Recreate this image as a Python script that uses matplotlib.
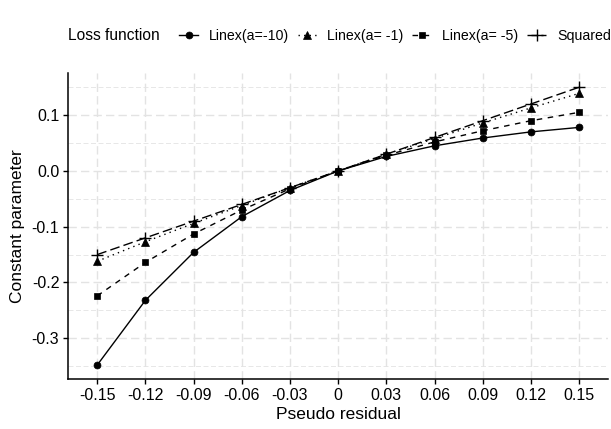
import matplotlib
matplotlib.use("Agg")
import matplotlib.pyplot as plt
import numpy as np

plt.rcParams['font.family'] = ['Liberation Sans', 'DejaVu Sans']

x_labels = ["-0.15", "-0.12", "-0.09", "-0.06", "-0.03", "0", "0.03", "0.06", "0.09", "0.12", "0.15"]
linex_m10 = [-0.348, -0.232, -0.146, -0.082, -0.035, 0.0, 0.026, 0.045, 0.059, 0.070, 0.078]
linex_m1 = [-0.162, -0.127, -0.094, -0.062, -0.030, 0.0, 0.030, 0.058, 0.086, 0.113, 0.139]
linex_m5 = [-0.224, -0.164, -0.113, -0.070, -0.032, 0.0, 0.028, 0.052, 0.072, 0.090, 0.105]
squared = [-0.15, -0.12, -0.09, -0.06, -0.03, 0.0, 0.03, 0.06, 0.09, 0.12, 0.15]
series_names = ["Linex(a=-10)", "Linex(a= -1)", "Linex(a= -5)", "Squared"]
y_ticks = [-0.3, -0.2, -0.1, 0.0, 0.1]
y_minor = [-0.35, -0.25, -0.15, -0.05, 0.05, 0.15]

W, H = 611, 429
fig = plt.figure(figsize=(W / 100, H / 100), dpi=100)
ax = fig.add_axes([68.3 / W, 1 - 379 / H, (608 - 68.3) / W, (379 - 73.3) / H])

xs = np.arange(len(x_labels))
lw = 1.0
styles = [
    dict(data=linex_m10, marker='o', ls='-', ms=5),
    dict(data=linex_m1, marker='^', ls=(0, (1, 3)), ms=5.5),
    dict(data=linex_m5, marker='s', ls=(0, (4, 4)), ms=5),
    dict(data=squared, marker='+', ls=(0, (7, 3)), ms=9),
]
handles = []
for name, st in zip(series_names, styles):
    h, = ax.plot(xs, st['data'], color='black', lw=lw, linestyle=st['ls'],
                 marker=st['marker'], markersize=st['ms'],
                 markeredgewidth=1.0 if st['marker'] == '+' else 0.5,
                 label=name, zorder=3)
    handles.append(h)

ax.set_xlim(-0.6, len(x_labels) - 1 + 0.6)
ax.set_ylim(-0.373, 0.175)
ax.set_xticks(xs)
ax.set_xticklabels(x_labels)
ax.set_yticks(y_ticks)
ax.set_yticklabels([f"{v:.1f}" for v in y_ticks])
ax.set_yticks(y_minor, minor=True)

grid_col = '#e3e3e3'
ax.grid(True, which='major', color=grid_col, linestyle=(0, (6, 3)), linewidth=1.0, zorder=0)
ax.grid(True, which='minor', axis='y', color=grid_col, linestyle=(0, (6, 3)), linewidth=0.6, zorder=0)
ax.set_axisbelow(True)

for s in ['top', 'right']:
    ax.spines[s].set_visible(False)
for s in ['left', 'bottom']:
    ax.spines[s].set_linewidth(1.1)
    ax.spines[s].set_color('black')

ax.tick_params(axis='both', which='major', labelsize=11.5, colors='black', length=3.5, width=1.0, pad=3)
ax.tick_params(axis='y', which='minor', length=0)
ax.set_xlabel("Pseudo residual", fontsize=12.5, labelpad=3)
ax.set_ylabel("Constant parameter", fontsize=12.5, labelpad=5)

fig.text(68 / W, 1 - 36 / H, "Loss function", fontsize=11.2, ha='left', va='center')
fig.legend(handles=handles, labels=series_names, loc='center left',
           bbox_to_anchor=(179 / W, 1 - 36 / H), ncol=4, frameon=False,
           fontsize=10.2, handlelength=1.35, handletextpad=0.75, columnspacing=0.62,
           borderaxespad=0, borderpad=0)

fig.savefig("out.png", dpi=100)
